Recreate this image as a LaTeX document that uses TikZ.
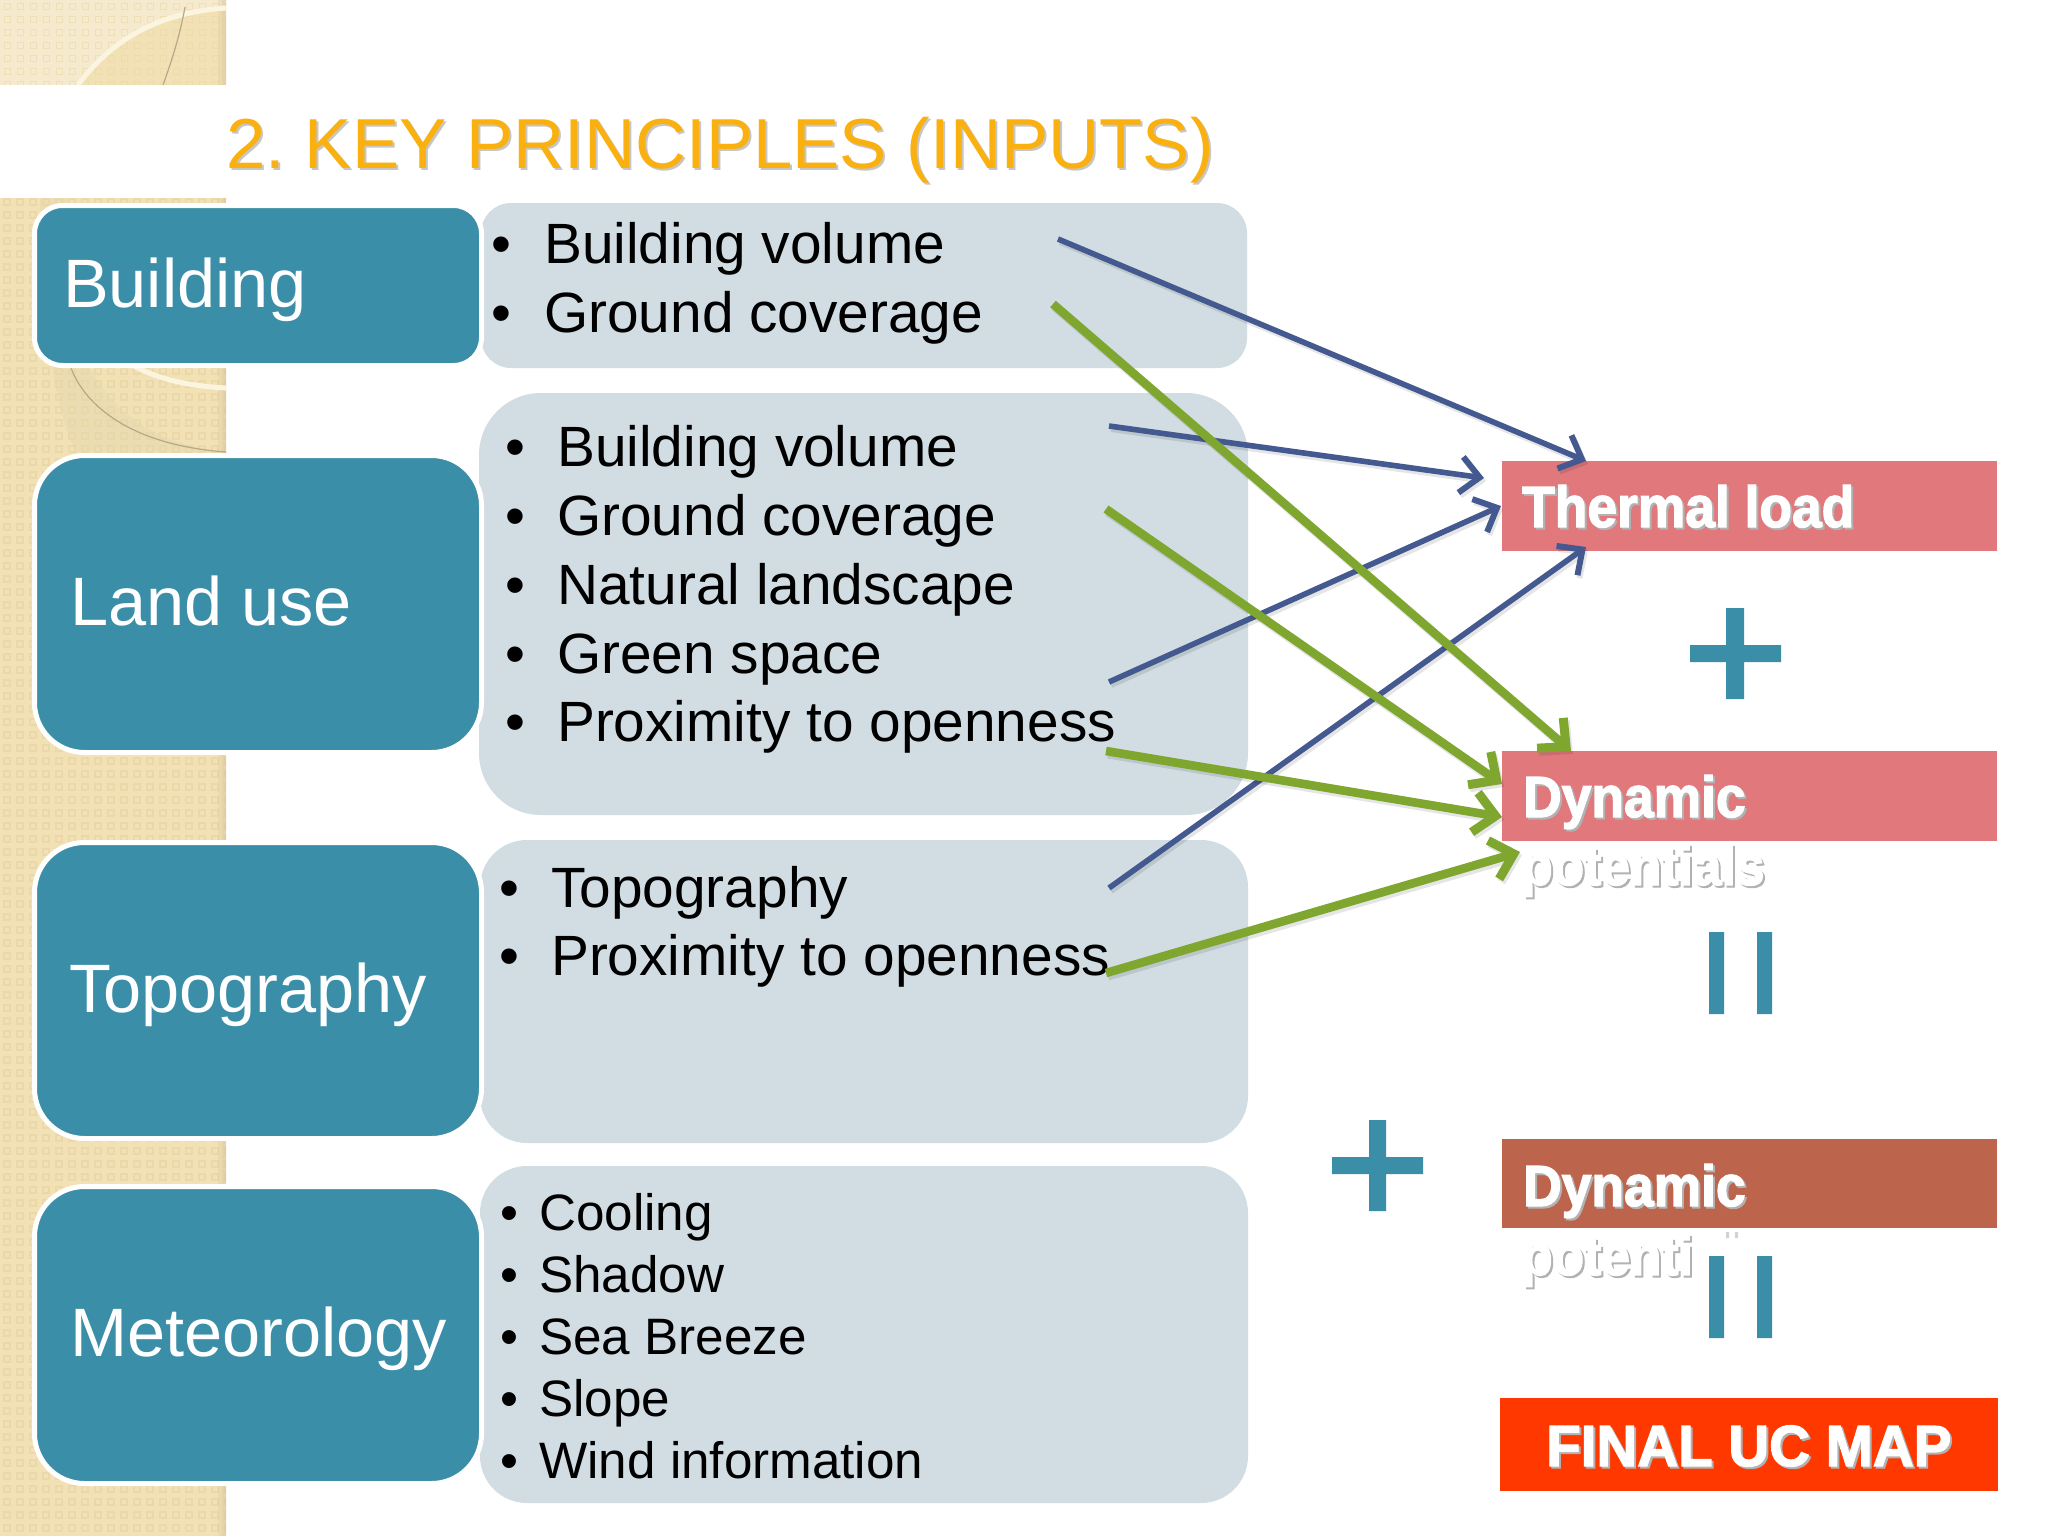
\documentclass[tikz,border=0pt]{standalone}
\usepackage{fontspec}
\setmainfont{Liberation Sans}
\newfontfamily\heavy[BoldFeatures={FakeBold=2.2,FakeStretch=0.92}]{Liberation Sans}
\newfontfamily\heavyw[BoldFeatures={FakeBold=2.2,FakeStretch=0.975}]{Liberation Sans}
\usetikzlibrary{arrows.meta}
\definecolor{teal}{HTML}{3A8EA8}
\definecolor{panel}{HTML}{D1DDE3}
\definecolor{rose}{HTML}{E0787C}
\definecolor{brick}{HTML}{BC644C}
\definecolor{flame}{HTML}{FF3800}
\definecolor{gold}{HTML}{FAB10F}
\definecolor{inkblue}{HTML}{44598F}
\definecolor{leaf}{HTML}{7FA62F}
\definecolor{sand}{HTML}{F3E1B6}
\definecolor{sandlight}{HTML}{F5EACD}
\definecolor{sandline}{HTML}{E9D6A6}
\definecolor{cream}{HTML}{FBF4DF}
\definecolor{band}{HTML}{EBDCB2}
\definecolor{edge}{HTML}{D9C69A}
\newcommand{\shadowed}[3][gray!60]{\rlap{\raisebox{-#2}{\hspace{#2}\textcolor{#1}{#3}}}#3}
\tikzset{
  x=1pt,y=-1pt,
  cat/.style={draw=white,line width=5pt,fill=teal,rounded corners=#1,outer sep=0pt},
  pane/.style={fill=panel,rounded corners=#1},
  cattext/.style={anchor=base west,text=white,inner sep=0pt,font=\fontsize{68.5}{80}\selectfont},
  item/.style={anchor=base west,text=black,inner sep=0pt,font=\fontsize{56.8}{68}\selectfont},
  itemsm/.style={anchor=base west,text=black,inner sep=0pt,font=\fontsize{51.2}{60}\selectfont},
  hot/.style={anchor=base west,text=white,inner sep=0pt,font=\heavy\bfseries\fontsize{58}{70}\selectfont},
  hotp/.style={anchor=base west,text=white,inner sep=0pt,font=\heavy\bfseries\fontsize{56}{70}\selectfont},
  hotw/.style={anchor=base west,text=white,inner sep=0pt,font=\heavyw\bfseries\fontsize{58}{70}\selectfont},
  sym/.style={fill=teal},
  blueline/.style={draw=inkblue,line width=5.6pt,-{Straight Barb[length=19pt,width=36pt,line width=6pt]},
    preaction={draw=black,opacity=.10,line width=6pt,transform canvas={shift={(2pt,-3pt)}}}},
  greenline/.style={draw=leaf,line width=8.6pt,-{Straight Barb[length=21pt,width=40pt,line width=9pt]},
    preaction={draw=black,opacity=.10,line width=9pt,transform canvas={shift={(2pt,-3pt)}}}},
}
\newcommand{\bul}[1]{\makebox[#1][l]{•}}
\begin{document}
\frenchspacing
\begin{tikzpicture}
\useasboundingbox (0,0) rectangle (2048,1536);
\fill[white] (0,0) rectangle (2048,1536);
% ---- side strip
\begin{scope}
\clip (0,0) rectangle (226,1536);
\fill[sand] (0,0) rectangle (226,85);
\fill[sandlight] (0,0) -- (226,0) -- (226,8) .. controls (165,12) and (115,35) .. (78,85) -- (0,85) -- cycle;
\fill[sand] (0,198) rectangle (226,1536);
\fill[band] (40,198) .. controls (42,300) and (50,400) .. (76,452) -- (226,452) .. controls (150,445) and (80,400) .. (71,300) -- (68,198) -- cycle;
\foreach \cx in {4,17,...,225}{
  \foreach \cy in {4,17,...,85}{ \draw[sandline,line width=1pt,opacity=.55] (\cx,\cy) rectangle ++(6,6); }
  \foreach \cy in {199,212,...,1536}{ \draw[sandline,line width=1.2pt,opacity=.8] (\cx,\cy) rectangle ++(6,6); }
}
\fill[edge,opacity=.3] (218,198) rectangle (226,1536) (218,0) rectangle (226,85);
\fill[edge,opacity=.3] (222,198) rectangle (226,1536) (222,0) rectangle (226,85);
\draw[cream,line width=5pt] (78,85) .. controls (115,35) and (165,12) .. (226,8);
\draw[black!25!sand,line width=1.2pt] (163,85) .. controls (172,60) and (180,35) .. (185,7);
\draw[cream,line width=5pt] (134,366) .. controls (160,380) and (190,386) .. (226,388);
\draw[black!25!sand,line width=1.2pt] (71,368) .. controls (85,405) and (130,445) .. (226,452);
\end{scope}
\fill[white] (0,85) rectangle (226,198);
% ---- title
\node[anchor=base west,inner sep=0pt,text=gold,font=\fontsize{70.8}{85}\selectfont] (title) at (226,168) {\shadowed[gray!45]{2pt}{2. KEY PRINCIPLES (INPUTS)}};
% ---- panels
\node[pane=30pt,minimum width=766pt,minimum height=165pt,anchor=north west,inner sep=0pt,outer sep=0pt] (p1) at (481,203) {};
\node[pane=62pt,minimum width=769pt,minimum height=422pt,anchor=north west,inner sep=0pt,outer sep=0pt] (p2) at (479,393) {};
\node[pane=47pt,minimum width=768pt,minimum height=303pt,anchor=north west,inner sep=0pt,outer sep=0pt] (p3) at (480,840) {};
\node[pane=47pt,minimum width=768pt,minimum height=337pt,anchor=north west,inner sep=0pt,outer sep=0pt] (p4) at (480,1166) {};
% ---- category boxes
\node[cat=28pt,minimum width=447pt,minimum height=160pt,anchor=north west,inner sep=0pt] (c1) at (34.5,205.5) {};
\node[cat=50pt,minimum width=447pt,minimum height=297pt,anchor=north west,inner sep=0pt] (c2) at (34.5,455.5) {};
\node[cat=50pt,minimum width=447pt,minimum height=296pt,anchor=north west,inner sep=0pt] (c3) at (34.5,842.5) {};
\node[cat=50pt,minimum width=447pt,minimum height=297pt,anchor=north west,inner sep=0pt] (c4) at (34.5,1186.5) {};
\node[cattext] (t1) at (63,307) {Building};
\node[cattext] (t2) at (70,625) {Land use};
\node[cattext] (t3) at (69,1012) {Topography};
\node[cattext] (t4) at (70,1356) {Meteorology};
% ---- lists
\node[item] (l1a) at (491,263) {\bul{53pt}Building volume};
\node[item] (l1b) at (491,332) {\bul{53pt}Ground coverage};
\node[item] (l2a) at (505,466) {\bul{52pt}Building volume};
\node[item] (l2b) at (505,535) {\bul{52pt}Ground coverage};
\node[item] (l2c) at (505,604) {\bul{52pt}Natural landscape};
\node[item] (l2d) at (505,673) {\bul{52pt}Green space};
\node[item] (l2e) at (505,741) {\bul{52pt}Proximity to openness};
\node[item] (l3a) at (499,907) {\bul{52pt}Topography};
\node[item] (l3b) at (499,975) {\bul{52pt}Proximity to openness};
\node[itemsm] (l4a) at (500,1230) {\bul{39pt}Cooling};
\node[itemsm] (l4b) at (500,1292) {\bul{39pt}Shadow};
\node[itemsm] (l4c) at (500,1354) {\bul{39pt}Sea Breeze};
\node[itemsm] (l4d) at (500,1416) {\bul{39pt}Slope};
\node[itemsm] (l4e) at (500,1478) {\bul{39pt}Wind information};
% ---- result boxes
\node[fill=rose,minimum width=495pt,minimum height=90pt,anchor=north west,inner sep=0pt,outer sep=0pt] (thermal) at (1502,461) {};
\node[fill=rose,minimum width=495pt,minimum height=90pt,anchor=north west,inner sep=0pt,outer sep=0pt] (dyn1) at (1502,751) {};
\node[fill=brick,minimum width=495pt,minimum height=89pt,anchor=north west,inner sep=0pt,outer sep=0pt] (dyn2) at (1502,1139) {};
\node[fill=flame,minimum width=498pt,minimum height=93pt,anchor=north west,inner sep=0pt,outer sep=0pt] (final) at (1500,1398) {};
\node[hot] (h1) at (1522,527) {\shadowed{2pt}{Thermal load}};
\node[hot] (h2) at (1523,817) {\shadowed{2pt}{Dynamic}};
\node[hotp] (h3) at (1521,885) {\shadowed{2pt}{potentials}};
\node[hot] (h4) at (1523,1206) {\shadowed{2pt}{Dynamic}};
\node[hotp] (h5) at (1521,1275) {\shadowed{2pt}{potenti}};
\node[hotw] (h6) at (1546,1466) {\shadowed{2pt}{FINAL UC MAP}};
\fill[gray!35] (1726,1232) rectangle (1729,1238) (1735,1232) rectangle (1738,1238);
% ---- symbols
\fill[sym] (1690,645) rectangle (1781,662) (1726,608) rectangle (1744,699);
\fill[sym] (1332,1157) rectangle (1423,1174) (1369,1120) rectangle (1386,1211);
\fill[sym] (1709,932) rectangle (1724,1014) (1757,932) rectangle (1772,1014);
\fill[sym] (1709,1256) rectangle (1724,1338) (1757,1256) rectangle (1772,1338);
% ---- arrow end points
\coordinate (b1s) at (1058,239); \coordinate (b1e) at (1586,461);
\coordinate (b2s) at (1109,426); \coordinate (b2e) at (1484,478);
\coordinate (b3s) at (1109,682); \coordinate (b3e) at (1501,506);
\coordinate (b4s) at (1109,888); \coordinate (b4e) at (1586,547);
\coordinate (g1s) at (1053,304); \coordinate (g1e) at (1571,751);
\coordinate (g2s) at (1106,509); \coordinate (g2e) at (1502,784);
\coordinate (g3s) at (1106,751); \coordinate (g3e) at (1502,817);
\coordinate (g4s) at (1106,973); \coordinate (g4e) at (1520,852);
\draw[blueline] (b1s) -- (b1e);
\draw[blueline] (b2s) -- (b2e);
\draw[blueline] (b3s) -- (b3e);
\draw[blueline] (b4s) -- (b4e);
\draw[greenline] (g1s) -- (g1e);
\draw[greenline] (g2s) -- (g2e);
\draw[greenline] (g3s) -- (g3e);
\draw[greenline] (g4s) -- (g4e);
\end{tikzpicture}
\end{document}
